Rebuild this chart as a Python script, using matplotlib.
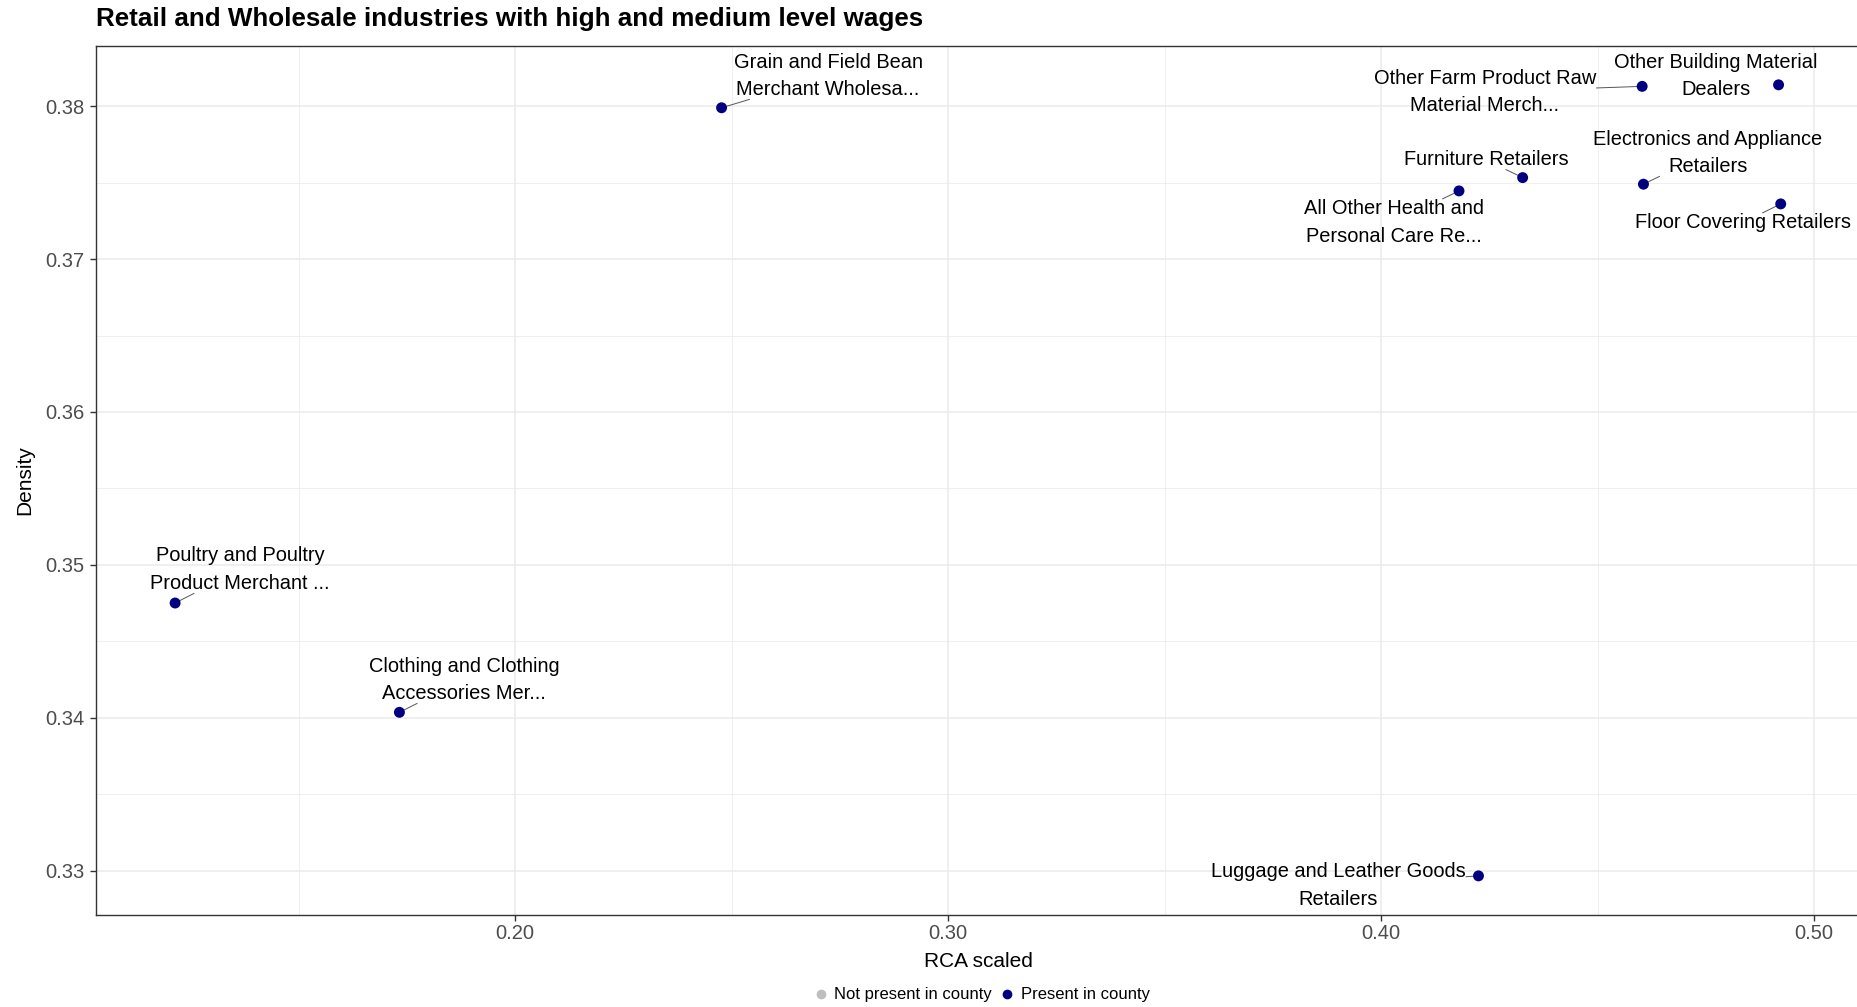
import matplotlib
matplotlib.use("Agg")
import matplotlib.pyplot as plt
from matplotlib.lines import Line2D
import numpy as np

plt.rcParams['font.family'] = ['Liberation Sans', 'DejaVu Sans']

# ---------------- data ----------------
title = "Retail and Wholesale industries with high and medium level wages"
industries = [
    "Grain and Field Bean\nMerchant Wholesa...",
    "Other Farm Product Raw\nMaterial Merch...",
    "Other Building Material\nDealers",
    "Electronics and Appliance\nRetailers",
    "Furniture Retailers",
    "All Other Health and\nPersonal Care Re...",
    "Floor Covering Retailers",
    "Poultry and Poultry\nProduct Merchant ...",
    "Clothing and Clothing\nAccessories Mer...",
    "Luggage and Leather Goods\nRetailers",
]
rca_scaled = [0.2477, 0.4603, 0.4918, 0.4606, 0.4327, 0.4180, 0.4923, 0.1215, 0.1733, 0.4225]
density = [0.3799, 0.3813, 0.3814, 0.3749, 0.37533, 0.37446, 0.37361, 0.3475, 0.34035, 0.32965]
present = [True] * 10

# label placement (repelled label centres, data coordinates)
label_x = [0.2723, 0.4240, 0.4774, 0.4755, 0.4242, 0.4030, 0.4836, 0.1365, 0.1882, 0.3901]
label_y = [0.38198, 0.38094, 0.38198, 0.37695, 0.37649, 0.37240, 0.37239, 0.34967, 0.34247, 0.32900]

x_major = [0.20, 0.30, 0.40, 0.50]
x_minor = [0.15, 0.25, 0.35, 0.45]
y_major = [0.33, 0.34, 0.35, 0.36, 0.37, 0.38]
y_minor = [0.335, 0.345, 0.355, 0.365, 0.375]
legend_labels = ["Not present in county", "Present in county"]
legend_colors = ["#BEBEBE", "#000080"]

# ---------------- figure ----------------
W, H = 1857, 1007
fig = plt.figure(figsize=(W / 100, H / 100), dpi=100)
L, R, T, B = 96, 1861, 45.7, 915
ax = fig.add_axes([L / W, 1 - B / H, (R - L) / W, (B - T) / H])

ax.set_xlim(0.10323, 0.51084)
ax.set_ylim(0.32709, 0.38396)

ax.set_xticks(x_major)
ax.set_xticks(x_minor, minor=True)
ax.set_yticks(y_major)
ax.set_yticks(y_minor, minor=True)
ax.set_xticklabels([f"{v:.2f}" for v in x_major])
ax.set_yticklabels([f"{v:.2f}" for v in y_major])

ax.grid(which='major', color='#EBEBEB', linewidth=1.1)
ax.grid(which='minor', color='#EBEBEB', linewidth=0.55)
ax.set_axisbelow(True)
ax.tick_params(which='minor', length=0)
ax.tick_params(which='major', length=4.3, width=1.0, color='#333333',
               labelsize=14.5, labelcolor='#4D4D4D')
ax.tick_params(axis='x', pad=2)
ax.tick_params(axis='y', pad=4)
for s in ax.spines.values():
    s.set_color('#333333')
    s.set_linewidth(1.0)

colors = [legend_colors[1] if p else legend_colors[0] for p in present]
ax.scatter(rca_scaled, density, s=62, c=colors, zorder=3, linewidths=0)

texts = []
for name, lx, ly in zip(industries, label_x, label_y):
    t = ax.text(lx, ly, name, ha='center', va='center', multialignment='center',
                fontsize=14.4, color='black', linespacing=1.58, zorder=4)
    texts.append(t)

# segments from point toward label centre, clipped at the label box (ggrepel style)
fig.canvas.draw()
renderer = fig.canvas.get_renderer()
inv = ax.transData.inverted()
for t, x, y in zip(texts, rca_scaled, density):
    bb = t.get_window_extent(renderer)
    px, py = ax.transData.transform((x, y))
    cx, cy = (bb.x0 + bb.x1) / 2, (bb.y0 + bb.y1) / 2
    if bb.x0 <= px <= bb.x1 and bb.y0 <= py <= bb.y1:
        continue
    dx, dy = cx - px, cy - py
    ts = []
    if px < bb.x0:
        ts.append((bb.x0 - px) / dx)
    elif px > bb.x1:
        ts.append((bb.x1 - px) / dx)
    if py < bb.y0:
        ts.append((bb.y0 - py) / dy)
    elif py > bb.y1:
        ts.append((bb.y1 - py) / dy)
    tt = max(ts)
    ex, ey = px + tt * dx, py + tt * dy
    if np.hypot(ex - px, ey - py) < 6:
        continue
    p0 = inv.transform((ex, ey))
    ax.plot([p0[0], x], [p0[1], y], color='#555555', linewidth=0.7, zorder=2,
            solid_capstyle='butt')

fig.text(L / W, 1 - 26 / H, title, ha='left', va='baseline',
         fontsize=18.7, fontweight='bold')
fig.text(25 / W, 1 - 480 / H, "Density", rotation=90, ha='center', va='center', fontsize=15)
fig.text(978 / W, 1 - 961.6 / H, "RCA scaled", ha='center', va='center', fontsize=15)

handles = [Line2D([], [], linestyle='none', marker='o', markersize=7,
                  markerfacecolor=c, markeredgewidth=0) for c in legend_colors]
fig.legend(handles, legend_labels, loc='center', bbox_to_anchor=(982 / W, 1 - 995 / H),
           ncol=2, frameon=False, fontsize=12, handlelength=0.8, handletextpad=0.4,
           columnspacing=0.5, borderpad=0, borderaxespad=0)

fig.savefig("out.png", dpi=100)
